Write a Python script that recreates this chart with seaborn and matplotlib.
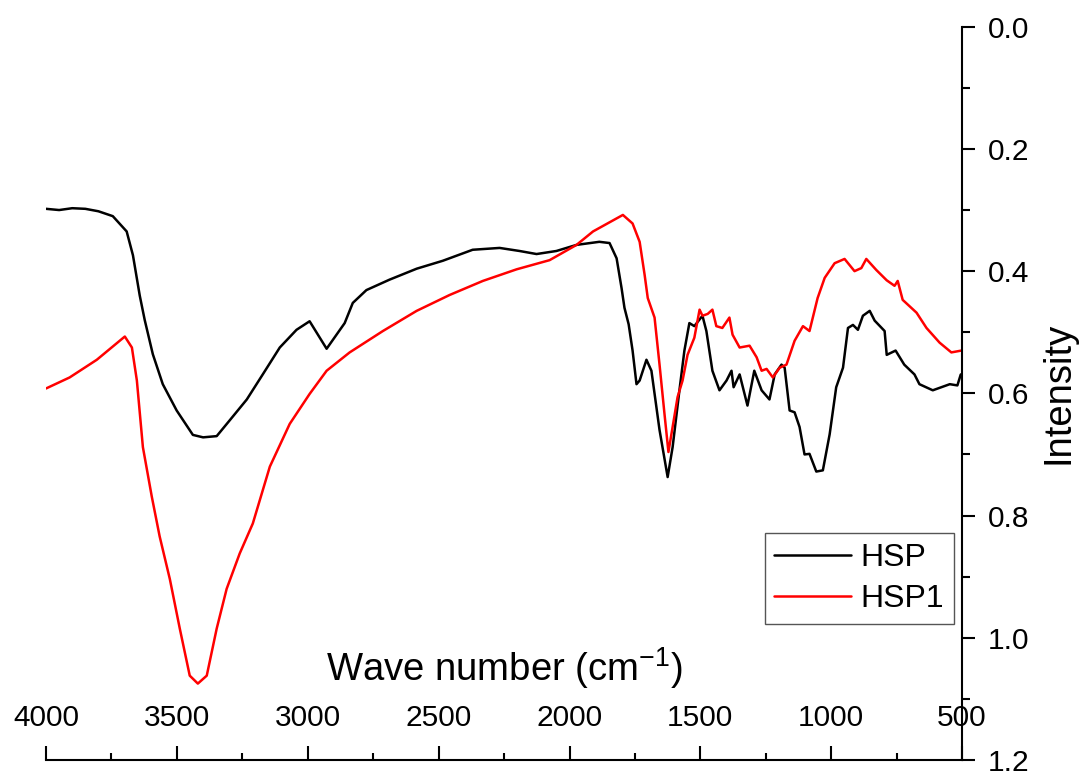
import matplotlib
matplotlib.use("Agg")
import matplotlib.pyplot as plt
from matplotlib.ticker import MultipleLocator
import seaborn as sns
import pandas as pd

# FTIR spectra: wave number (cm-1) and intensity
hsp_wn = [4000, 3950, 3900, 3850, 3800, 3745, 3692, 3668, 3642, 3623, 3592, 3554,
          3501, 3439, 3400, 3348, 3298, 3233, 3172, 3107, 3043, 2993, 2928, 2859,
          2828, 2776, 2688, 2584, 2484, 2370, 2267, 2191, 2126, 2050, 1973, 1886,
          1847, 1820, 1801, 1790, 1774, 1759, 1744, 1732, 1706, 1687, 1656, 1625,
          1606, 1580, 1561, 1542, 1523, 1492, 1477, 1454, 1427, 1400, 1381, 1373,
          1350, 1320, 1294, 1266, 1236, 1216, 1190, 1178, 1159, 1140, 1121, 1102,
          1083, 1057, 1032, 1006, 981, 955, 936, 917, 898, 879, 853, 834, 796, 788,
          754, 721, 682, 663, 612, 547, 518, 505]
hsp = [0.298, 0.300, 0.297, 0.298, 0.302, 0.310, 0.335, 0.374, 0.440, 0.480, 0.536, 0.585,
       0.628, 0.668, 0.672, 0.670, 0.644, 0.610, 0.569, 0.525, 0.496, 0.482, 0.527, 0.485,
       0.452, 0.431, 0.414, 0.396, 0.383, 0.365, 0.362, 0.367, 0.372, 0.367, 0.357, 0.352,
       0.354, 0.379, 0.428, 0.460, 0.487, 0.530, 0.585, 0.579, 0.545, 0.563, 0.660, 0.737,
       0.688, 0.595, 0.530, 0.485, 0.490, 0.473, 0.498, 0.563, 0.595, 0.579, 0.563, 0.590,
       0.569, 0.620, 0.563, 0.595, 0.610, 0.569, 0.553, 0.558, 0.628, 0.631, 0.655, 0.700,
       0.699, 0.728, 0.726, 0.667, 0.590, 0.558, 0.493, 0.488, 0.496, 0.473, 0.465, 0.481,
       0.498, 0.537, 0.530, 0.553, 0.569, 0.585, 0.595, 0.585, 0.587, 0.569]

hsp1_wn = [4000, 3910, 3806, 3699, 3672, 3653, 3630, 3596, 3566, 3527, 3489, 3451,
           3420, 3386, 3348, 3310, 3260, 3210, 3145, 3069, 2993, 2928, 2840, 2713,
           2584, 2458, 2331, 2202, 2076, 1973, 1910, 1834, 1796, 1759, 1732, 1713,
           1701, 1675, 1656, 1637, 1622, 1606, 1587, 1568, 1549, 1523, 1503, 1492,
           1472, 1454, 1439, 1416, 1389, 1377, 1350, 1312, 1285, 1266, 1247, 1223,
           1197, 1171, 1140, 1108, 1083, 1052, 1025, 987, 949, 911, 885, 866, 828,
           788, 758, 746, 727, 674, 636, 586, 541, 503]
hsp1 = [0.592, 0.574, 0.545, 0.507, 0.525, 0.579, 0.688, 0.769, 0.834, 0.904, 0.985, 1.062,
        1.075, 1.062, 0.985, 0.920, 0.862, 0.813, 0.720, 0.650, 0.601, 0.563, 0.533, 0.498,
        0.465, 0.439, 0.416, 0.397, 0.382, 0.357, 0.335, 0.317, 0.308, 0.322, 0.352, 0.406,
        0.444, 0.476, 0.553, 0.634, 0.696, 0.655, 0.606, 0.579, 0.537, 0.509, 0.463, 0.473,
        0.470, 0.463, 0.490, 0.493, 0.476, 0.504, 0.525, 0.522, 0.541, 0.563, 0.560, 0.574,
        0.558, 0.553, 0.514, 0.490, 0.498, 0.444, 0.411, 0.387, 0.380, 0.400, 0.395, 0.380,
        0.398, 0.415, 0.424, 0.416, 0.447, 0.468, 0.493, 0.517, 0.533, 0.530]

series_names = ["HSP", "HSP1"]
series_colors = ["black", "red"]

x_ticks = [4000, 3500, 3000, 2500, 2000, 1500, 1000, 500]
y_ticks = [0.0, 0.2, 0.4, 0.6, 0.8, 1.0, 1.2]

df = pd.concat([
    pd.DataFrame({"wn": hsp_wn, "intensity": hsp, "sample": series_names[0]}),
    pd.DataFrame({"wn": hsp1_wn, "intensity": hsp1, "sample": series_names[1]}),
], ignore_index=True)

sns.set_style("ticks")
plt.rcParams["font.family"] = ["Liberation Sans", "DejaVu Sans"]
plt.rcParams["mathtext.fontset"] = "custom"
plt.rcParams["mathtext.rm"] = "Liberation Sans"
plt.rcParams["mathtext.it"] = "Liberation Sans"
plt.rcParams["text.color"] = "black"
plt.rcParams["axes.labelcolor"] = "black"
plt.rcParams["xtick.color"] = "black"
plt.rcParams["ytick.color"] = "black"

fig = plt.figure(figsize=(10.81, 7.75), dpi=100)
ax = fig.add_axes([0.0426, 0.0194, 0.8474, 0.9461])

sns.lineplot(data=df, x="wn", y="intensity", hue="sample",
             palette=dict(zip(series_names, series_colors)),
             estimator=None, sort=False, linewidth=1.8, ax=ax)

ax.set_xlim(4000, 500)
ax.set_ylim(1.2, 0.0)

# spines: only bottom and right, Origin style
for side in ["top", "left"]:
    ax.spines[side].set_visible(False)
for side in ["bottom", "right"]:
    ax.spines[side].set_linewidth(1.5)
    ax.spines[side].set_color("black")

ax.set_xticks(x_ticks)
ax.set_xticklabels([str(v) for v in x_ticks])
ax.xaxis.set_minor_locator(MultipleLocator(250))
ax.tick_params(axis="x", which="major", direction="in", length=10, width=1.5,
               labelsize=21.5, pad=-30, colors="black")
ax.tick_params(axis="x", which="minor", direction="in", length=5, width=1.5)
for lbl in ax.get_xticklabels():
    lbl.set_va("center")

ax.yaxis.tick_right()
ax.set_yticks(y_ticks)
ax.set_yticklabels([f"{v:.1f}" for v in y_ticks])
ax.yaxis.set_minor_locator(MultipleLocator(0.1))
ax.tick_params(axis="y", which="major", direction="out", length=9.5, width=1.5,
               labelsize=21.5, pad=9, colors="black")
ax.tick_params(axis="y", which="minor", direction="out", length=5.5, width=1.5)

ax.set_xlabel("Wave number (cm$^{-1}$)", fontsize=27.5, color="black")
ax.xaxis.label.set_va("center")
ax.xaxis.set_label_coords(0.5, 0.125)

ax.yaxis.set_label_position("right")
ax.set_ylabel("Intensity", fontsize=27.5, rotation=90, color="black")
ax.yaxis.label.set_va("center")
ax.yaxis.set_label_coords(1.105, 0.5)

leg = ax.legend(loc="upper right", bbox_to_anchor=(0.991, 0.309), borderaxespad=0,
                fontsize=23, frameon=True, fancybox=False, shadow=False,
                handlelength=2.4, handletextpad=0.3, labelspacing=0.35,
                borderpad=0.3, title=None)
leg.get_frame().set_edgecolor("#555555")
leg.get_frame().set_linewidth(1.0)
leg.get_frame().set_alpha(1)
for txt in leg.get_texts():
    txt.set_color("black")
for line in leg.get_lines():
    line.set_linewidth(1.8)

fig.savefig("out.png", dpi=100, facecolor="white")
